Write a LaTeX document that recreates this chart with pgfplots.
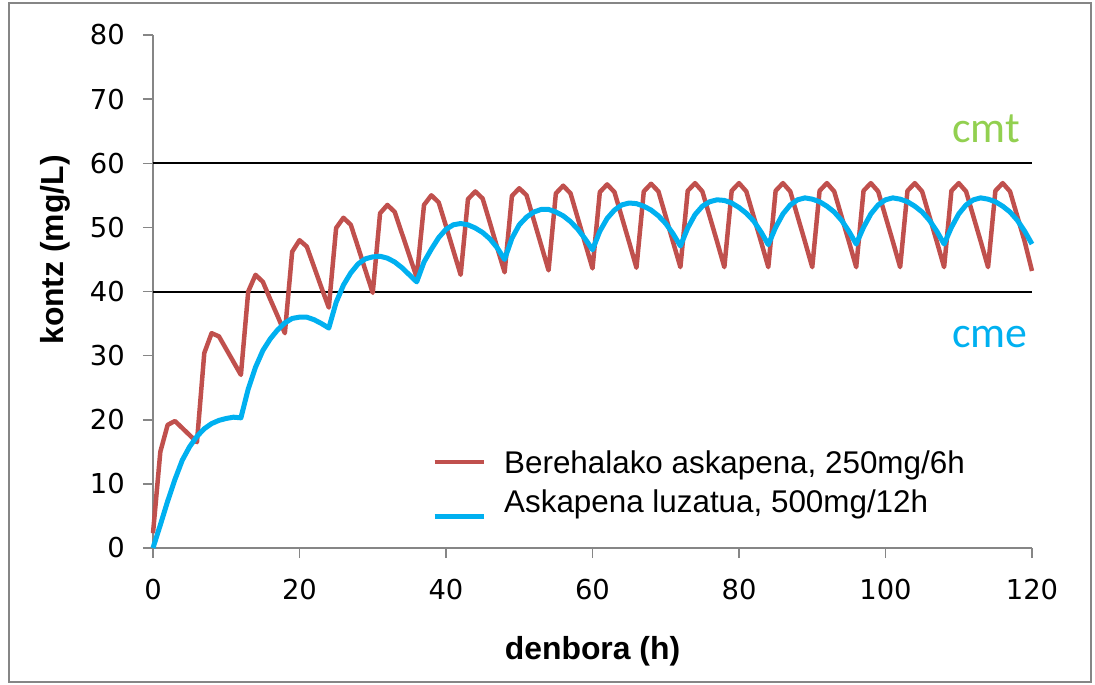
\documentclass[border=0pt]{standalone}
\usepackage{fontspec}
\setmainfont{Liberation Sans}
\newfontfamily\carlito{Carlito}
\newfontfamily\dejavu{DejaVu Sans}
\usepackage{pgfplots}
\pgfplotsset{compat=1.18}

\definecolor{redline}{HTML}{C0504D}
\definecolor{blueline}{HTML}{00B0F0}
\definecolor{cmtgreen}{HTML}{92D050}
\definecolor{spine}{HTML}{868686}

\begin{document}
\begin{tikzpicture}
\useasboundingbox (0,0) rectangle (1095bp,685bp);
\draw[spine, line width=1.5bp] (9bp,3bp) rectangle (1091bp,682bp);
\begin{axis}[
    at={(153bp,137bp)}, anchor=south west,
    scale only axis,
    width=879bp, height=513bp,
    xmin=0, xmax=120, ymin=0, ymax=80,
    xtick={0,20,...,120},
    ytick={0,10,...,80},
    axis x line*=bottom, axis y line*=left,
    axis line style={-, draw=spine, line width=1.5bp},
    tick align=outside,
    major tick length=10bp,
    tick style={spine, line width=1.5bp},
    /pgf/number format/assume math mode=true,
    tick label style={font=\dejavu\fontsize{27.5}{33}\selectfont, inner sep=0pt},
    yticklabel style={anchor=east, xshift=-18bp},
    xticklabel style={anchor=north, yshift=-21bp},
    xlabel={denbora (h)},
    ylabel={kontz (mg/L)},
    label style={font=\bfseries\fontsize{32}{38}\selectfont},
    xlabel style={at={(axis description cs:0.5,-0.218)}, anchor=base},
    ylabel style={at={(axis description cs:-0.1115,0.581)}, anchor=center},
    clip=false,
    legend cell align=left,
    legend style={
        at={(axis description cs:0.3174,0.189)}, anchor=north west,
        draw=none, fill=none, inner sep=0pt,
        font=\fontsize{31.5}{38}\selectfont,
        nodes={inner sep=0pt, text height=22bp, text depth=8bp},
        row sep=9bp, column sep=18bp},
]
% cmt / cme limits
\addplot[black, line width=2bp, forget plot] coordinates {(0,60) (120,60)};
\addplot[black, line width=2bp, forget plot] coordinates {(0,40) (120,40)};

% Berehalako askapena, 250mg/6h
\addplot[redline, line width=4.5bp, line join=round,
    legend image code/.code={\draw[redline, line width=4.5bp] (0bp,4bp) -- (49bp,4bp);}] coordinates {
(0,2.3) (1,15.0) (2,19.2) (3,19.8) (4,18.7) (5,17.6) (6,16.5)
(7,30.4) (8,33.5) (9,33.0) (10,31.0) (11,29.0) (12,27.0)
(13,40.0) (14,42.6) (15,41.5) (16,38.8) (17,36.2) (18,33.5)
(19,46.2) (20,48.0) (21,47.0) (22,43.8) (23,40.6) (24,37.5)
(25,49.9) (26,51.5) (27,50.4) (28,46.9) (29,43.3) (30,39.8)
(31,52.2) (32,53.5) (33,52.4) (34,49.0) (35,45.6) (36,42.2)
(37,53.5) (38,55.0) (39,53.9) (40,50.2) (41,46.4) (42,42.6)
(43,54.4) (44,55.6) (45,54.5) (46,50.7) (47,46.8) (48,43.0)
(49,54.9) (50,56.1) (51,55.0) (52,51.1) (53,47.2) (54,43.3)
(55,55.3) (56,56.5) (57,55.3) (58,51.4) (59,47.5) (60,43.6)
(61,55.5) (62,56.7) (63,55.5) (64,51.6) (65,47.7) (66,43.7)
(67,55.6) (68,56.8) (69,55.6) (70,51.7) (71,47.7) (72,43.8)
(73,55.7) (74,56.9) (75,55.6) (76,51.7) (77,47.8) (78,43.8)
(79,55.7) (80,56.9) (81,55.6) (82,51.7) (83,47.8) (84,43.8)
(85,55.7) (86,56.9) (87,55.6) (88,51.7) (89,47.8) (90,43.8)
(91,55.7) (92,56.9) (93,55.6) (94,51.7) (95,47.8) (96,43.8)
(97,55.7) (98,56.9) (99,55.6) (100,51.7) (101,47.8) (102,43.8)
(103,55.7) (104,56.9) (105,55.6) (106,51.7) (107,47.8) (108,43.8)
(109,55.7) (110,56.9) (111,55.6) (112,51.7) (113,47.8) (114,43.8)
(115,55.7) (116,56.9) (117,55.6) (118,51.7) (119,47.8) (120,43.2)
};
\addlegendentry{Berehalako askapena, 250mg/6h}

% Askapena luzatua, 500mg/12h
\addplot[blueline, line width=5bp, line join=round,
    legend image code/.code={\draw[blueline, line width=5bp] (0bp,-11bp) -- (49bp,-11bp);}] coordinates {
(0,0.0) (1,3.6) (2,7.3) (3,10.7) (4,13.7) (5,15.8) (6,17.4)
(7,18.6) (8,19.4) (9,19.9) (10,20.2) (11,20.4) (12,20.3)
(13,24.8) (14,28.2) (15,30.8) (16,32.6) (17,34.0) (18,35.1)
(19,35.8) (20,36.0) (21,36.0) (22,35.6) (23,35.0) (24,34.3)
(25,38.3) (26,41.0) (27,42.9) (28,44.3) (29,45.1) (30,45.4)
(31,45.5) (32,45.2) (33,44.6) (34,43.7) (35,42.6) (36,41.5)
(37,44.6) (38,46.6) (39,48.4) (40,49.7) (41,50.4) (42,50.6)
(43,50.4) (44,49.9) (45,49.2) (46,48.2) (47,46.8) (48,45.0)
(49,48.3) (50,50.4) (51,51.6) (52,52.4) (53,52.8) (54,52.8)
(55,52.4) (56,51.8) (57,50.9) (58,49.7) (59,48.2) (60,46.5)
(61,49.4) (62,51.4) (63,52.7) (64,53.5) (65,53.8) (66,53.7)
(67,53.3) (68,52.7) (69,51.8) (70,50.6) (71,49.0) (72,47.1)
(73,49.9) (74,52.0) (75,53.3) (76,54.0) (77,54.3) (78,54.2)
(79,53.8) (80,53.1) (81,52.2) (82,51.0) (83,49.3) (84,47.3)
(85,50.0) (86,52.1) (87,53.5) (88,54.3) (89,54.6) (90,54.4)
(91,54.0) (92,53.3) (93,52.4) (94,51.1) (95,49.4) (96,47.4)
(97,50.0) (98,52.1) (99,53.5) (100,54.3) (101,54.6) (102,54.4)
(103,54.0) (104,53.3) (105,52.4) (106,51.1) (107,49.4) (108,47.4)
(109,50.0) (110,52.1) (111,53.5) (112,54.3) (113,54.6) (114,54.4)
(115,54.0) (116,53.3) (117,52.4) (118,51.1) (119,49.4) (120,47.4)
};
\addlegendentry{Askapena luzatua, 500mg/12h}

\node[anchor=base west, inner sep=0pt, text=cmtgreen,
      font=\carlito\fontsize{44}{50}\selectfont] at (axis cs:109.1,63.2) {cmt};
\node[anchor=base west, inner sep=0pt, text=blueline,
      font=\carlito\fontsize{44}{50}\selectfont] at (axis cs:109.1,31.2) {cme};
\end{axis}
\end{tikzpicture}
\end{document}
